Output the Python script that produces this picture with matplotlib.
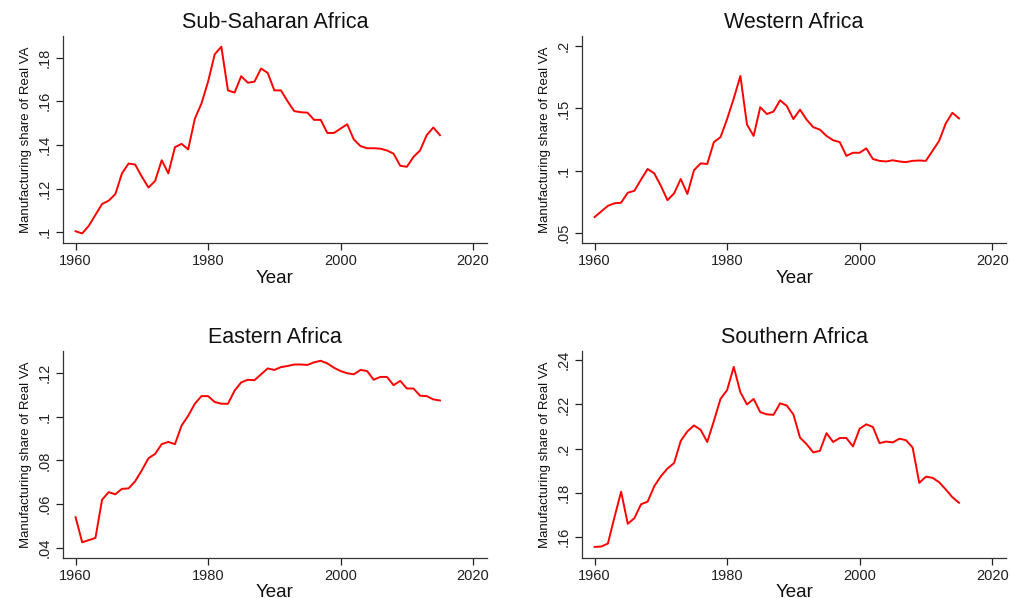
import matplotlib
matplotlib.use('Agg')
import matplotlib.pyplot as plt
import numpy as np

matplotlib.rcParams['font.family'] = 'Liberation Sans'

years = np.arange(1960, 2016)

# Manufacturing share of real value added
ssa = [0.1005, 0.0995, 0.103, 0.108, 0.113, 0.1145, 0.1175, 0.127, 0.1315, 0.131,
       0.1255, 0.1205, 0.1235, 0.133, 0.127, 0.139, 0.1405, 0.138, 0.152, 0.159,
       0.169, 0.1815, 0.185, 0.165, 0.164, 0.1715, 0.1685, 0.169, 0.175, 0.173,
       0.165, 0.165, 0.160, 0.1555, 0.155, 0.1548, 0.1515, 0.1515, 0.1455, 0.1455,
       0.1475, 0.1495, 0.1425, 0.1395, 0.1385, 0.1385, 0.1383, 0.1375, 0.136, 0.1305,
       0.130, 0.1345, 0.1375, 0.1445, 0.148, 0.1445]
western = [0.063, 0.0675, 0.072, 0.074, 0.0745, 0.0825, 0.084, 0.093, 0.1015, 0.098,
           0.088, 0.0765, 0.082, 0.0935, 0.0815, 0.1005, 0.106, 0.1055, 0.123, 0.127,
           0.1415, 0.158, 0.176, 0.137, 0.128, 0.151, 0.1455, 0.1475, 0.1565, 0.152,
           0.1415, 0.149, 0.141, 0.135, 0.133, 0.128, 0.1245, 0.123, 0.112, 0.1145,
           0.1145, 0.118, 0.1095, 0.108, 0.1075, 0.1085, 0.1075, 0.107, 0.108, 0.1083,
           0.108, 0.116, 0.124, 0.138, 0.1465, 0.142]
eastern = [0.054, 0.0425, 0.0435, 0.0445, 0.062, 0.0655, 0.0645, 0.067, 0.0672, 0.0705,
           0.0755, 0.081, 0.083, 0.0875, 0.0885, 0.0875, 0.096, 0.1005, 0.106, 0.1095,
           0.1095, 0.1068, 0.106, 0.106, 0.112, 0.1158, 0.117, 0.1168, 0.1195, 0.1222,
           0.1215, 0.1228, 0.1233, 0.124, 0.124, 0.1238, 0.125, 0.1257, 0.1245, 0.1225,
           0.121, 0.120, 0.1195, 0.1215, 0.121, 0.117, 0.1183, 0.1183, 0.1145, 0.1165,
           0.113, 0.113, 0.1097, 0.1095, 0.108, 0.1075]
southern = [0.1555, 0.1557, 0.157, 0.169, 0.1805, 0.166, 0.1685, 0.1748, 0.176, 0.183,
            0.1875, 0.191, 0.1935, 0.2035, 0.2078, 0.2105, 0.2085, 0.203, 0.2125, 0.2225,
            0.2265, 0.237, 0.2255, 0.220, 0.2225, 0.2165, 0.2155, 0.2153, 0.2205, 0.2195,
            0.2155, 0.205, 0.202, 0.1983, 0.199, 0.207, 0.203, 0.2048, 0.2048, 0.201,
            0.209, 0.211, 0.2098, 0.2025, 0.2032, 0.2028, 0.2045, 0.2038, 0.2005, 0.1845,
            0.1873, 0.1868, 0.1848, 0.1815, 0.178, 0.1755]

titles = ['Sub-Saharan Africa', 'Western Africa', 'Eastern Africa', 'Southern Africa']
series = [ssa, western, eastern, southern]
yticks = [np.arange(0.10, 0.181, 0.02), np.arange(0.05, 0.201, 0.05),
          np.arange(0.04, 0.121, 0.02), np.arange(0.16, 0.241, 0.02)]
ylims = [(0.0951, 0.1899), (0.0422, 0.208), (0.0353, 0.1302), (0.1505, 0.2442)]
xticks = [1960, 1980, 2000, 2020]

fig = plt.figure(figsize=(10.11, 5.98), dpi=100)
positions = [(0.0623, 0.5936), (0.5757, 0.5936), (0.0623, 0.0669), (0.5757, 0.0669)]


def stata_fmt(v):
    s = f'{v:g}'
    return s[1:] if s.startswith('0.') else s


for (l, b), title, vals, yt, yl in zip(positions, titles, series, yticks, ylims):
    ax = fig.add_axes([l, b, 0.4194, 0.3462])
    ax.plot(years, vals, color='#ff0000', linewidth=1.4)
    ax.set_xlim(1958.1, 2022.1)
    ax.set_ylim(*yl)
    ax.set_xticks(xticks)
    ax.set_yticks(yt)
    ax.set_yticklabels([stata_fmt(round(v, 3)) for v in yt], rotation=90, va='center')
    ax.tick_params(axis='both', direction='out', length=5, width=0.9, colors='#222222',
                   labelsize=10.5, pad=3)
    for s in ['top', 'right']:
        ax.spines[s].set_visible(False)
    for s in ['left', 'bottom']:
        ax.spines[s].set_color('#333333')
        ax.spines[s].set_linewidth(0.9)
    ax.set_title(title, fontsize=15.5, pad=6, color='#111111')
    ax.set_xlabel('Year', fontsize=13.5, labelpad=1, color='#111111')
    ax.set_ylabel('Manufacturing share of Real VA', fontsize=9.5, labelpad=4, color='#111111')

fig.savefig('out.png', dpi=100, facecolor='white')
